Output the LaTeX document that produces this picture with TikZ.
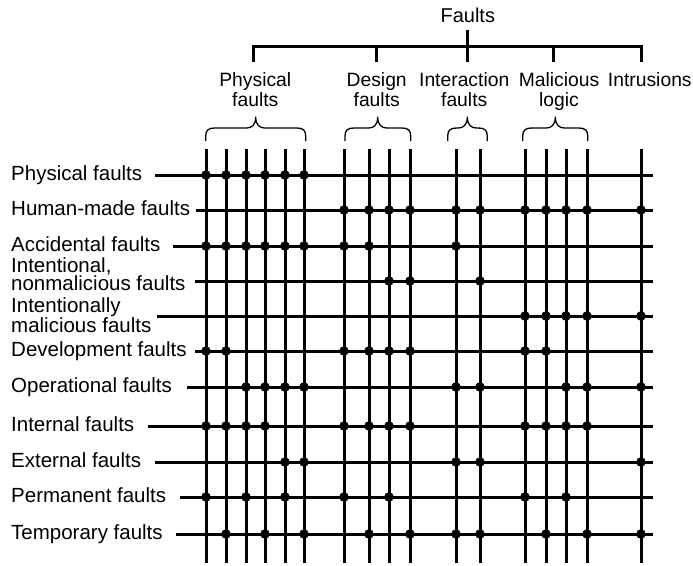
\documentclass[tikz,border=0pt]{standalone}
\usepackage{fontspec}
\setmainfont{Liberation Sans}
\usetikzlibrary{calc}

% curly brace over a group of columns: left end, tip, right end
\newcommand\groupbrace[3]{%
  \draw[curly] (#1,141) -- (#1,136)
    .. controls (#1,130) and (#1+3,128) .. (#1+9,128) -- (#2-9,128)
    .. controls (#2-4,128) and (#2,125) .. (#2,117)
    .. controls (#2,125) and (#2+4,128) .. (#2+9,128) -- (#3-9,128)
    .. controls (#3-3,128) and (#3,130) .. (#3,136) -- (#3,141);}

\begin{document}
\begin{tikzpicture}[x=1pt,y=-1pt,
  gridline/.style={line width=3pt},
  bar/.style={line width=3pt},
  curly/.style={line width=1.3pt,line join=round},
  dot/.style={circle,fill=black,inner sep=0pt,minimum size=9.6pt},
  rowlabel/.style={anchor=base west,inner sep=0pt,align=left,
    font=\fontsize{20.5}{16.5}\selectfont},
  grouplabel/.style={anchor=base,inner sep=0pt,align=center,
    font=\fontsize{19.3}{20.7}\selectfont},
  rootlabel/.style={anchor=base,inner sep=0pt,
    font=\fontsize{20}{22}\selectfont}]
\useasboundingbox (0,0) rectangle (693,565);

% ---- classification tree (multi-line labels are placed by their last baseline) ----
\node[rootlabel] (root) at (467.8,22.7) {Faults};
\node[grouplabel] (gphys) at (255.3,106.7) {Physical\\faults};
\node[grouplabel] (gdes)  at (376.7,106.7) {Design\\faults};
\node[grouplabel] (gint)  at (464.2,106.7) {Interaction\\faults};
\node[grouplabel] (gmal)  at (559,106.7)   {Malicious\\logic};
\node[grouplabel] (gintr) at (649.8,86)    {Intrusions};

\coordinate (stemtop) at (467.3,30);
\coordinate (barR)    at (641.3,46.7);
\coordinate (tphys)   at (253.3,61.7);
\coordinate (tdes)    at (376,61.7);
\coordinate (tint)    at (467.3,61.7);
\coordinate (tmal)    at (553.3,61.7);
\coordinate (tintr)   at (641.3,61.7);

\draw[bar] (tphys) |- (barR) -- (tintr);
\draw[bar] (tdes) -- (tdes |- barR);
\draw[bar] (tmal) -- (tmal |- barR);
\draw[bar] (stemtop) -- (tint);

\groupbrace{205.7}{255.7}{305.7}
\groupbrace{345}{377.7}{410.7}
\groupbrace{447.7}{467.3}{487.3}
\groupbrace{522.7}{555.3}{587.7}

% ---- row labels ----
\node[rowlabel] (l1)  at (11,180.5) {Physical faults};
\node[rowlabel] (l2)  at (11,215)   {Human-made faults};
\node[rowlabel] (l3)  at (11,251)   {Accidental faults};
\node[rowlabel] (l4)  at (11,290.7) {Intentional,\\nonmalicious faults};
\node[rowlabel] (l5)  at (11,332.5) {Intentionally\\malicious faults};
\node[rowlabel] (l6)  at (11,356)   {Development faults};
\node[rowlabel] (l7)  at (11,392)   {Operational faults};
\node[rowlabel] (l8)  at (11,431)   {Internal faults};
\node[rowlabel] (l9)  at (11,467)   {External faults};
\node[rowlabel] (l10) at (11,502.5) {Permanent faults};
\node[rowlabel] (l11) at (11,539)   {Temporary faults};

% ---- columns ----
\foreach \c/\x in {1/206,2/226,3/246,4/265,5/285,6/304,
                   7/344,8/369,9/389,10/410,11/456,12/480,
                   13/525,14/546,15/566,16/587,17/641}{
  \coordinate (c\c t) at (\x,149);
  \coordinate (c\c b) at (\x,563);
  \draw[gridline] (c\c t) -- (c\c b);
}

% ---- rows ----
\foreach \r/\y/\s in {1/175/155,2/210/196,3/246/173,4/281/195,
                      5/316/157,6/351/195,7/387/187,8/426/148,
                      9/462/155,10/497/180,11/534/176}{
  \coordinate (r\r s) at (\s,\y);
  \coordinate (r\r e) at (653,\y);
  \draw[gridline] (r\r s) -- (r\r e);
}

% ---- intersections ----
\foreach \r/\cs in {1/{1,2,3,4,5,6},
                    2/{7,8,9,10,11,12,13,14,15,16,17},
                    3/{1,2,3,4,5,6,7,8,11},
                    4/{9,10,12},
                    5/{13,14,15,16,17},
                    6/{1,2,7,8,9,10,13,14},
                    7/{3,4,5,6,11,12,15,16,17},
                    8/{1,2,3,4,7,8,9,10,13,14,15,16},
                    9/{5,6,11,12,17},
                    10/{1,3,5,7,9,13,15},
                    11/{2,4,6,8,10,11,12,14,16,17}}{
  \foreach \c in \cs{
    \node[dot] (d\r-\c) at (c\c t |- r\r s) {};
  }
}
\end{tikzpicture}
\end{document}
